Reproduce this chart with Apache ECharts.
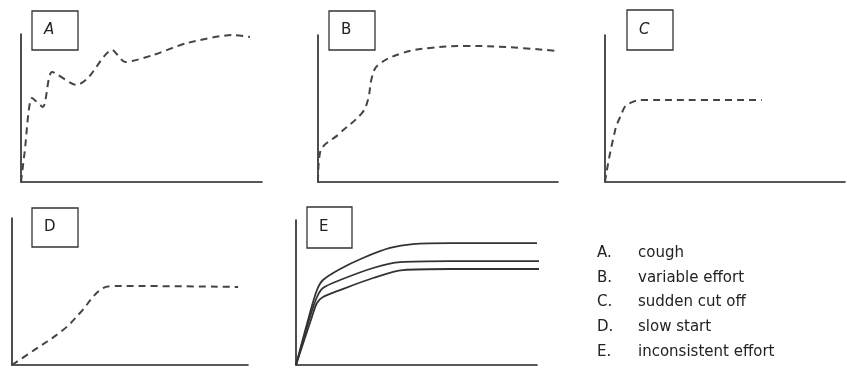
<!DOCTYPE html>
<html>
<head>
<meta charset="utf-8">
<script src="https://cdn.jsdelivr.net/npm/echarts@6/dist/echarts.min.js"></script>
<style>
  html, body { margin: 0; padding: 0; background: #fff; }
  #chart { width: 847px; height: 369px; }
</style>
</head>
<body>
<div id="chart"></div>
<script>
// panel letters and what each trace means
var panelNames = ['A', 'B', 'C', 'D', 'E'];
var descriptions = ['cough', 'variable effort', 'sudden cut off', 'slow start', 'inconsistent effort'];

// curves, x = time (0-100 of axis), y = flow (0-100 of axis)
var curveA = [[0, 0], [1.5, 20], [4.6, 56.8], [9.1, 50.7], [12.9, 74.3], [23.2, 65.5], [27.8, 70.3],
  [37.8, 89.2], [43.2, 81.1], [54.8, 85.8], [68.9, 93.9], [88.0, 99.3], [95.0, 98.0]];
var curveB = [[0, 0], [0.8, 19.7], [9.2, 33.3], [18.3, 46.9], [20.8, 55.8], [22.5, 71.4], [25, 79.6],
  [35.4, 87.8], [46.7, 91.2], [62.1, 92.5], [78.8, 91.8], [99.6, 89.1]];
var curveC = [[0, 0], [3.3, 28.6], [6.3, 44.2], [10.4, 53.7], [17.5, 55.8], [40, 55.8], [65.4, 55.8]];
var curveD = [[0, 0], [7.6, 8.2], [21.6, 23.8], [28.8, 35.4], [37.3, 51], [42.8, 53.7], [54.2, 53.7], [95.8, 53.1]];
var curveEtop = [[0, 0], [5.8, 35.9], [8.7, 51.7], [11.2, 58.6], [18.3, 66.2], [27.8, 73.8], [39, 80.7],
  [48.5, 83.4], [63.9, 84.1], [100, 84.1]];
var curveEmid = [[0, 0], [5.8, 33.1], [8.7, 46.9], [11.2, 53.1], [18.3, 58.6], [32, 66.9], [43.2, 71],
  [63.9, 71.7], [102, 71.7]];
var curveElow = [[0, 0], [6.6, 33.1], [8.7, 42.8], [11.2, 46.9], [18.3, 51.7], [32, 60], [44.4, 65.5],
  [63.9, 66.2], [102, 66.2]];

var chart = echarts.init(document.getElementById('chart'));

var grids = [
  { left: 21, top: 34, width: 241, height: 148 },
  { left: 318, top: 35, width: 240, height: 147 },
  { left: 605, top: 35, width: 240, height: 147 },
  { left: 12, top: 218, width: 236, height: 147 },
  { left: 296, top: 220, width: 241, height: 145 }
];
// label box spots for each panel
var boxes = [
  { x: 32, y: 11, w: 46, h: 39, italic: true },
  { x: 329, y: 11, w: 46, h: 39, italic: false },
  { x: 627, y: 10, w: 46, h: 40, italic: true },
  { x: 32, y: 208, w: 46, h: 39, italic: false },
  { x: 307, y: 207, w: 45, h: 41, italic: false }
];

var axisLine = { show: true, lineStyle: { color: '#222', width: 1.6 } };
var xAxes = [], yAxes = [];
grids.forEach(function (g, i) {
  xAxes.push({ gridIndex: i, type: 'value', min: 0, max: 100, axisLine: axisLine,
    axisTick: { show: false }, axisLabel: { show: false }, splitLine: { show: false } });
  yAxes.push({ gridIndex: i, type: 'value', min: 0, max: 100, axisLine: axisLine,
    axisTick: { show: false }, axisLabel: { show: false }, splitLine: { show: false } });
});

function dashed(data, idx, smooth) {
  return {
    type: 'line', xAxisIndex: idx, yAxisIndex: idx, data: data, symbol: 'none',
    smooth: smooth, clip: false, silent: true,
    lineStyle: { color: '#444', width: 2, type: [7, 5] }
  };
}
function solid(data) {
  return {
    type: 'line', xAxisIndex: 4, yAxisIndex: 4, data: data, symbol: 'none',
    smooth: 0.3, clip: false, silent: true,
    lineStyle: { color: '#333', width: 1.8 }
  };
}

var graphics = [];
boxes.forEach(function (b, i) {
  graphics.push({ type: 'rect', shape: { x: b.x, y: b.y, width: b.w, height: b.h },
    style: { fill: 'none', stroke: '#333', lineWidth: 1.3 } });
  graphics.push({ type: 'text', x: b.x + 12, y: b.y + b.h / 2,
    style: { text: panelNames[i], font: (b.italic ? 'italic ' : '') + '15px "DejaVu Sans"',
      fill: '#222', verticalAlign: 'middle' } });
});
descriptions.forEach(function (d, i) {
  var y = 253 + i * 24.7;
  graphics.push({ type: 'text', x: 597, y: y,
    style: { text: panelNames[i] + '.', font: '15px "DejaVu Sans"', fill: '#222', verticalAlign: 'middle' } });
  graphics.push({ type: 'text', x: 638, y: y,
    style: { text: d, font: '15px "DejaVu Sans"', fill: '#222', verticalAlign: 'middle' } });
});

chart.setOption({
  animation: false,
  backgroundColor: '#fff',
  grid: grids,
  xAxis: xAxes,
  yAxis: yAxes,
  series: [
    dashed(curveA, 0, 0.25),
    dashed(curveB, 1, 0.4),
    dashed(curveC, 2, 0.5),
    dashed(curveD, 3, 0.4),
    solid(curveEtop),
    solid(curveEmid),
    solid(curveElow)
  ],
  graphic: graphics
});
</script>
</body>
</html>
